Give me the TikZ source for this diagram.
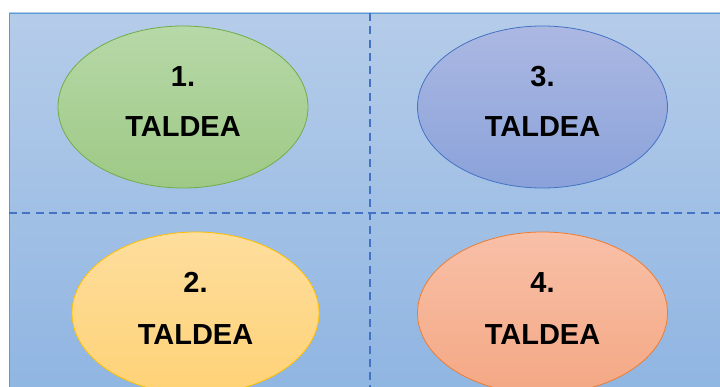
\documentclass[tikz,border=0pt]{standalone}
\usepackage{fontspec}
\setmainfont{Liberation Sans}
\usetikzlibrary{shapes.geometric}
\definecolor{bgtop}{RGB}{181,204,233}
\definecolor{bgbot}{RGB}{143,181,226}
\definecolor{frame}{RGB}{91,155,213}
\definecolor{divider}{RGB}{68,114,196}
\definecolor{gtop}{RGB}{183,216,168}
\definecolor{gbot}{RGB}{158,201,133}
\definecolor{gline}{RGB}{112,173,71}
\definecolor{btop}{RGB}{172,184,226}
\definecolor{bbot}{RGB}{138,162,218}
\definecolor{bline}{RGB}{68,114,196}
\definecolor{ytop}{RGB}{254,222,158}
\definecolor{ybot}{RGB}{254,210,118}
\definecolor{yline}{RGB}{255,192,0}
\definecolor{otop}{RGB}{248,192,168}
\definecolor{obot}{RGB}{244,168,132}
\definecolor{oline}{RGB}{237,125,49}
\tikzset{
  team/.style={ellipse, draw=#1line, line width=0.8pt,
    top color=#1top, bottom color=#1bot,
    minimum width=250pt, minimum height=162pt, inner sep=0pt},
  label text/.style={anchor=base, font=\bfseries\fontsize{29}{29}\selectfont,
    text=black, inner sep=0pt},
  divline/.style={draw=divider, line width=1.8pt, dash pattern=on 8pt off 5.3pt}
}
\begin{document}
\begin{tikzpicture}[x=1pt,y=-1pt]
  \useasboundingbox (0,0) rectangle (720,387);
  % background panel
  \shade[top color=bgtop, bottom color=bgbot] (9,13) rectangle (730,395);
  \draw[frame, line width=0.8pt] (9,395) -- (9,13) -- (730,13);
  % dividers
  \coordinate (vtop) at (370,13);
  \coordinate (vbot) at (370,387);
  \coordinate (hleft) at (9,213);
  \coordinate (hright) at (720,213);
  \draw[divline] (vtop) -- (vbot);
  \draw[divline] (hleft) -- (hright);
  % team ellipses
  \node[team=g] (t1) at (183,107) {};
  \node[team=b] (t3) at (542.5,107) {};
  \node[team=y, minimum width=247pt] (t2) at (195.5,313) {};
  \node[team=o] (t4) at (542.5,313) {};
  % labels
  \node[label text] (n1) at (183,87) {1.};
  \node[label text] (w1) at (183,137) {TALDEA};
  \node[label text] (n3) at (542.5,87) {3.};
  \node[label text] (w3) at (542.5,137) {TALDEA};
  \node[label text] (n2) at (195.5,293) {2.};
  \node[label text] (w2) at (195.5,344) {TALDEA};
  \node[label text] (n4) at (542.5,293) {4.};
  \node[label text] (w4) at (542.5,344) {TALDEA};
\end{tikzpicture}
\end{document}
